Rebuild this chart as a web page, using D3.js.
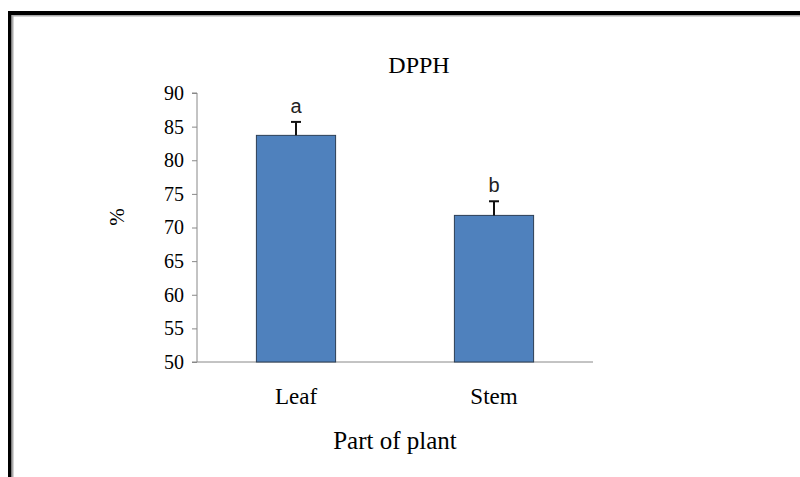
<!DOCTYPE html>
<html>
<head>
<meta charset="utf-8">
<script src="https://cdn.jsdelivr.net/npm/d3@7"></script>
<style>
  body { margin: 0; background: #fff; }
  svg { display: block; }
</style>
</head>
<body>
<div id="chart"></div>
<script>
// data
const parts = ['Leaf', 'Stem'];
const values = [83.7, 71.8];
const errors = [2.0, 2.1];
const letters = ['a', 'b'];
const yTicks = [50, 55, 60, 65, 70, 75, 80, 85, 90];

const width = 800, height = 477;
const svg = d3.select('#chart').append('svg')
  .attr('width', width)
  .attr('height', height);

// frame round the picture
svg.append('rect').attr('x', 8).attr('y', 11).attr('width', 800).attr('height', 4).attr('fill', '#000');
svg.append('rect').attr('x', 8).attr('y', 11).attr('width', 3.5).attr('height', 470).attr('fill', '#000');
svg.append('rect').attr('x', 12).attr('y', 15).attr('width', 790).attr('height', 1.5).attr('fill', '#aaa');
svg.append('rect').attr('x', 12).attr('y', 15).attr('width', 1.5).attr('height', 470).attr('fill', '#aaa');

// plot area
const x0 = 197, x1 = 593, yTop = 93, yBot = 362;
let x = d3.scaleBand().domain(parts).range([x0, x1]).padding(0);
let y = d3.scaleLinear().domain([50, 90]).range([yBot, yTop]);
const barW = x.bandwidth() * 0.4;

// y axis
const yAxis = svg.append('g')
  .attr('transform', `translate(${x0},0)`)
  .call(d3.axisLeft(y).tickValues(yTicks).tickSize(5).tickPadding(8));
yAxis.select('.domain').attr('stroke', '#888').attr('d', `M-5,${yTop}H0V${yBot}`);
yAxis.selectAll('line').attr('stroke', '#888');
yAxis.selectAll('text')
  .attr('font-family', '"Liberation Serif", "Times New Roman", serif')
  .attr('font-size', 20)
  .attr('fill', '#000');

// x axis line
svg.append('line')
  .attr('x1', x0 - 5).attr('x2', x1)
  .attr('y1', y(50)).attr('y2', y(50))
  .attr('stroke', '#888');

// bars
svg.selectAll('rect.bar')
  .data(parts)
  .enter()
  .append('rect')
  .attr('class', 'bar')
  .attr('x', d => x(d) + (x.bandwidth() - barW) / 2)
  .attr('y', (d, i) => y(values[i]))
  .attr('width', barW)
  .attr('height', (d, i) => y(50) - y(values[i]))
  .attr('fill', '#4f81bd')
  .attr('stroke', '#2c3e55')
  .attr('stroke-width', 1);

// error bars (upper only)
const eb = svg.selectAll('g.err')
  .data(parts)
  .enter()
  .append('g')
  .attr('class', 'err');
eb.append('line')
  .attr('x1', d => x(d) + x.bandwidth() / 2)
  .attr('x2', d => x(d) + x.bandwidth() / 2)
  .attr('y1', (d, i) => y(values[i]))
  .attr('y2', (d, i) => y(values[i] + errors[i]))
  .attr('stroke', '#111')
  .attr('stroke-width', 2);
eb.append('line')
  .attr('x1', d => x(d) + x.bandwidth() / 2 - 5)
  .attr('x2', d => x(d) + x.bandwidth() / 2 + 5)
  .attr('y1', (d, i) => y(values[i] + errors[i]))
  .attr('y2', (d, i) => y(values[i] + errors[i]))
  .attr('stroke', '#111')
  .attr('stroke-width', 2);

// significance letters
svg.selectAll('text.letter')
  .data(parts)
  .enter()
  .append('text')
  .attr('class', 'letter')
  .attr('x', d => x(d) + x.bandwidth() / 2)
  .attr('y', (d, i) => y(values[i] + errors[i]) - 9)
  .attr('text-anchor', 'middle')
  .attr('font-family', '"Liberation Sans", Arial, sans-serif')
  .attr('font-size', 20)
  .attr('fill', '#222')
  .text((d, i) => letters[i]);

// category labels
svg.selectAll('text.cat')
  .data(parts)
  .enter()
  .append('text')
  .attr('class', 'cat')
  .attr('x', d => x(d) + x.bandwidth() / 2)
  .attr('y', 404)
  .attr('text-anchor', 'middle')
  .attr('font-family', '"Liberation Serif", "Times New Roman", serif')
  .attr('font-size', 23)
  .attr('fill', '#000')
  .text(d => d);

// titles
svg.append('text')
  .attr('x', 419).attr('y', 73)
  .attr('text-anchor', 'middle')
  .attr('font-family', '"Liberation Serif", "Times New Roman", serif')
  .attr('font-size', 24)
  .text('DPPH');

svg.append('text')
  .attr('x', 395).attr('y', 449)
  .attr('text-anchor', 'middle')
  .attr('font-family', '"Liberation Serif", "Times New Roman", serif')
  .attr('font-size', 25)
  .text('Part of plant');

svg.append('text')
  .attr('transform', 'translate(124,217) rotate(-90)')
  .attr('text-anchor', 'middle')
  .attr('font-family', '"Liberation Serif", "Times New Roman", serif')
  .attr('font-size', 21)
  .text('%');
</script>
</body>
</html>
